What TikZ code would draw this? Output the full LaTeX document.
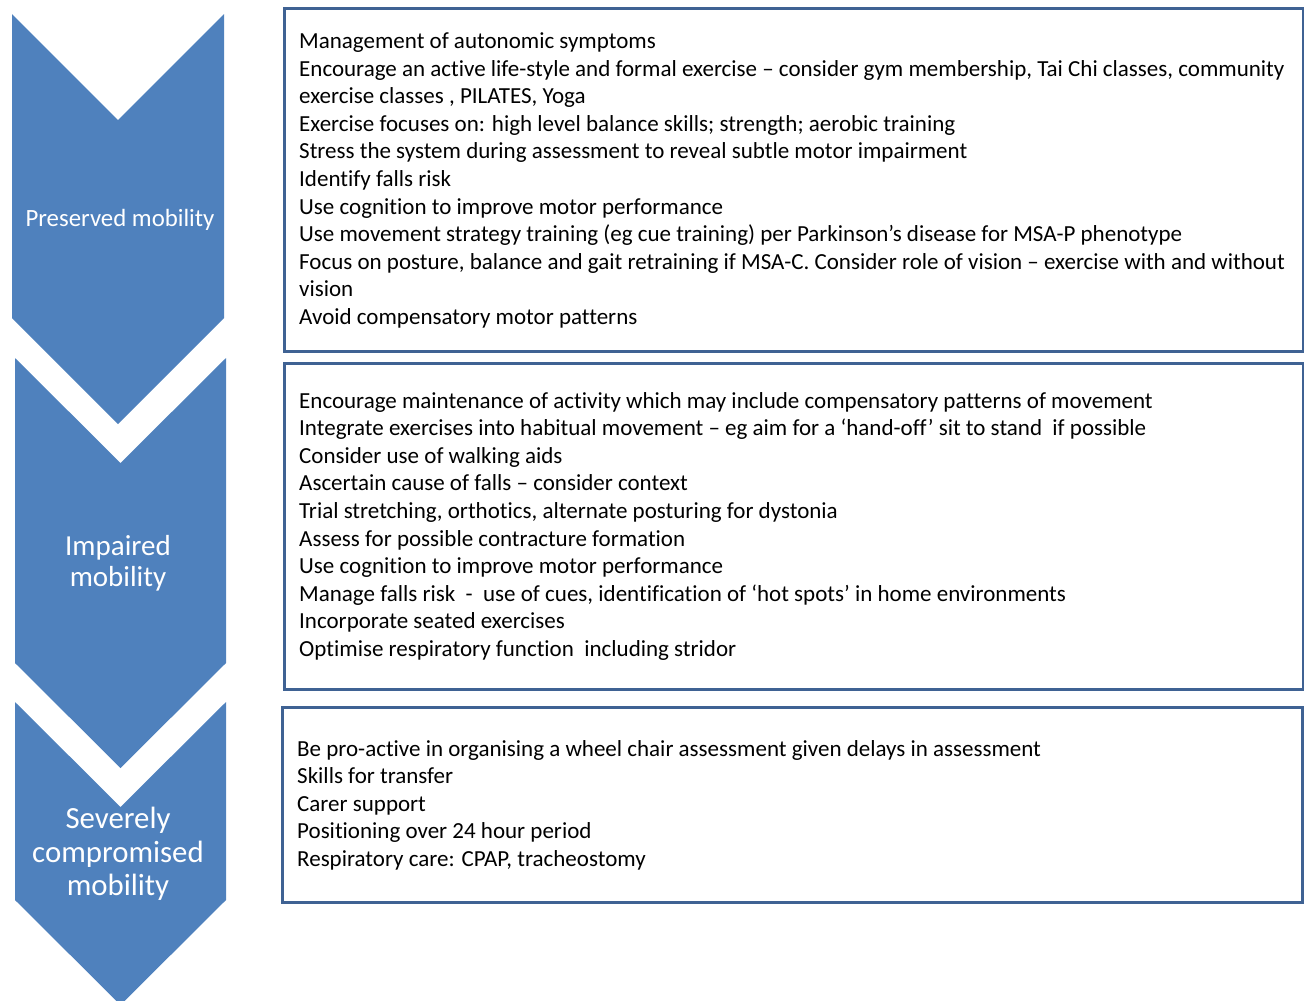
\documentclass[tikz,border=0pt]{standalone}
\usepackage{fontspec}
\setmainfont[RawFeature=-liga]{Carlito}
\definecolor{chevblue}{HTML}{4F81BD}
\definecolor{boxblue}{HTML}{3F6293}
\begin{document}
\begin{tikzpicture}[x=1pt,y=-1pt,
  chev/.style={fill=chevblue},
  chevlabel/.style={text=white,align=center,inner sep=0pt},
  panel/.style={draw=boxblue,line width=3pt,anchor=north west,inner sep=0pt},
  bodytext/.style={anchor=north west,align=left,inner sep=0pt,font=\fontsize{23}{27.6}\selectfont}]
\useasboundingbox (0,0) rectangle (1304,1001);
\begin{scope}
\clip (0,0) rectangle (1304,1001);
\fill[chev] (12,14) -- (118,120) -- (224,14) -- (224,318) -- (118,424) -- (12,318) -- cycle;
\fill[chev] (15,358) -- (120.5,463) -- (226,358) -- (226,663) -- (120.5,768) -- (15,663) -- cycle;
\fill[chev] (15,702) -- (120.5,807) -- (226,702) -- (226,900) -- (120.5,1005) -- (15,900) -- cycle;
\end{scope}
\node[chevlabel,font=\fontsize{24.8}{28}\selectfont] (l1) at (120,220) {Preserved mobility};
\node[chevlabel,font=\fontsize{29}{31}\selectfont] (l2) at (118,563) {Impaired\\mobility};
\node[chevlabel,font=\fontsize{30.8}{33.5}\selectfont] (l3) at (118,854) {Severely\\compromised\\mobility};
\node[panel,minimum width=1019pt,minimum height=343pt] (b1) at (283,7) {};
\node[panel,minimum width=1019pt,minimum height=326pt] (b2) at (283,362) {};
\node[panel,minimum width=1020pt,minimum height=195pt] (b3) at (281,706) {};
\node[bodytext] (t1) at (299,32.5) {Management of autonomic symptoms\\
Encourage an active life-style and formal exercise – consider gym membership, Tai Chi classes, community\\
exercise classes , PILATES, Yoga\\
Exercise focuses on: high level balance skills; strength; aerobic training\\
Stress the system during assessment to reveal subtle motor impairment\\
Identify falls risk\\
Use cognition to improve motor performance\\
Use movement strategy training (eg cue training) per Parkinson’s disease for MSA-P phenotype\\
Focus on posture, balance and gait retraining if MSA-C. Consider role of vision – exercise with and without\\
vision\\
Avoid compensatory motor patterns};
\node[bodytext] (t2) at (299,392) {Encourage maintenance of activity which may include compensatory patterns of movement\\
Integrate exercises into habitual movement – eg aim for a ‘hand-off’ sit to stand\ \ if possible\\
Consider use of walking aids\\
Ascertain cause of falls – consider context\\
Trial stretching, orthotics, alternate posturing for dystonia\\
Assess for possible contracture formation\\
Use cognition to improve motor performance\\
Manage falls risk\ \ -\ \ use of cues, identification of ‘hot spots’ in home environments\\
Incorporate seated exercises\\
Optimise respiratory function\ \ including stridor};
\node[bodytext] (t3) at (297,740) {Be pro-active in organising a wheel chair assessment given delays in assessment\\
Skills for transfer\\
Carer support\\
Positioning over 24 hour period\\
Respiratory care: CPAP, tracheostomy};
\end{tikzpicture}
\end{document}
